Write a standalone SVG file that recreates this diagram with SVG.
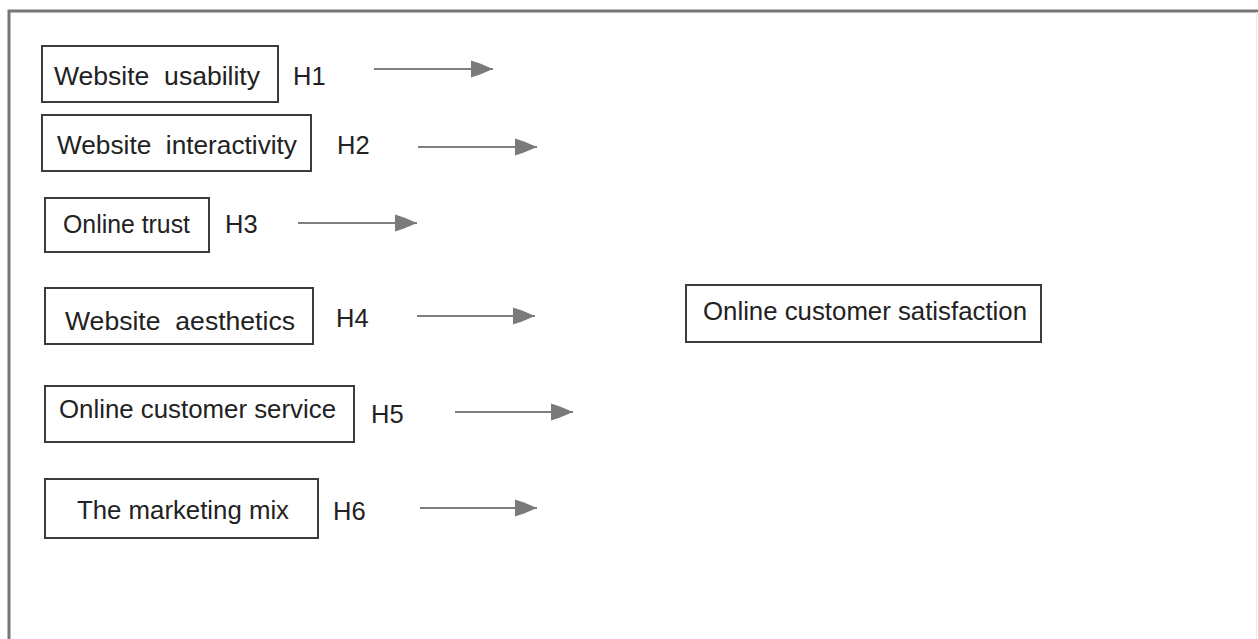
<svg xmlns="http://www.w3.org/2000/svg" width="1258" height="639" viewBox="0 0 1258 639">
  <defs>
    <marker id="ah" markerUnits="userSpaceOnUse" markerWidth="22" markerHeight="18" refX="22" refY="9" orient="auto">
      <path d="M0,0.5 L9,3.5 L22,9 L9,14.5 L0,17.5 Z" fill="#7a7a7a"/>
    </marker>
    <style>
      .box{fill:#ffffff;stroke:#3c3c3c;stroke-width:2}
      .t{font-family:"Liberation Sans",Arial,sans-serif;font-size:25.5px;fill:#222222;white-space:pre}
      .arr{stroke:#7f7f7f;stroke-width:2;fill:none;marker-end:url(#ah)}
    </style>
  </defs>
  <rect x="0" y="0" width="1258" height="639" fill="#ffffff"/>
  <g id="frame">
    <path d="M9,639 V11 H1258" fill="none" stroke="#767676" stroke-width="3"/>
    <line x1="1256.5" y1="12" x2="1256.5" y2="639" stroke="#ececec" stroke-width="1"/>
  </g>
  <g id="n1">
    <rect class="box" x="42" y="46" width="236" height="56"/>
    <text class="t" x="54" y="85" textLength="206" lengthAdjust="spacingAndGlyphs" xml:space="preserve">Website  usability</text>
  </g>
  <g id="n2">
    <rect class="box" x="42" y="115" width="269" height="56"/>
    <text class="t" x="57" y="154" textLength="240" lengthAdjust="spacingAndGlyphs" xml:space="preserve">Website  interactivity</text>
  </g>
  <g id="n3">
    <rect class="box" x="45" y="198" width="164" height="54"/>
    <text class="t" x="63" y="233" textLength="127" lengthAdjust="spacingAndGlyphs">Online trust</text>
  </g>
  <g id="n4">
    <rect class="box" x="45" y="288" width="268" height="56"/>
    <text class="t" x="65" y="330" textLength="230" lengthAdjust="spacingAndGlyphs" xml:space="preserve">Website  aesthetics</text>
  </g>
  <g id="n5">
    <rect class="box" x="45" y="386" width="309" height="56"/>
    <text class="t" x="59" y="418" textLength="277" lengthAdjust="spacingAndGlyphs">Online customer service</text>
  </g>
  <g id="n6">
    <rect class="box" x="45" y="479" width="273" height="59"/>
    <text class="t" x="77" y="519" textLength="212" lengthAdjust="spacingAndGlyphs">The marketing mix</text>
  </g>
  <g id="n7">
    <rect class="box" x="686" y="285" width="355" height="57"/>
    <text class="t" x="703" y="320" textLength="324" lengthAdjust="spacingAndGlyphs">Online customer satisfaction</text>
  </g>
  <g id="labels">
    <text class="t" x="293" y="85">H1</text>
    <text class="t" x="337" y="154">H2</text>
    <text class="t" x="225" y="233">H3</text>
    <text class="t" x="336" y="327">H4</text>
    <text class="t" x="371" y="423">H5</text>
    <text class="t" x="333" y="520">H6</text>
  </g>
  <g id="connectors">
    <line class="arr" x1="374" y1="69" x2="493" y2="69"/>
    <line class="arr" x1="418" y1="147" x2="537" y2="147"/>
    <line class="arr" x1="298" y1="223" x2="417" y2="223"/>
    <line class="arr" x1="417" y1="316" x2="535" y2="316"/>
    <line class="arr" x1="455" y1="412" x2="573" y2="412"/>
    <line class="arr" x1="420" y1="508" x2="537" y2="508"/>
  </g>
</svg>
